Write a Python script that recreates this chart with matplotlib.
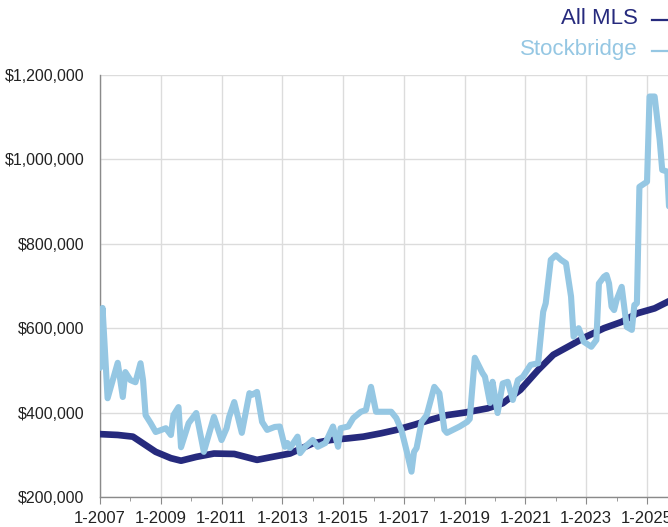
import matplotlib
matplotlib.use('Agg')
import matplotlib.pyplot as plt
from matplotlib.lines import Line2D
from matplotlib.ticker import FuncFormatter, MultipleLocator
import numpy as np

plt.rcParams['font.family'] = ['Liberation Sans', 'DejaVu Sans']

# months since January 2007
stock_months = [0, 1, 3, 7, 9, 10, 12, 14, 16, 17, 18, 20, 22, 26, 28, 29, 31, 32, 35, 38,
                41, 45, 48, 50, 51, 53, 56, 59, 60, 62, 64, 66, 69, 71, 73, 74, 75, 78, 79, 81,
                84, 86, 89, 92, 94, 95, 98, 100, 103, 105, 107, 109, 112, 115, 117, 119, 121, 123, 124, 125,
                127, 129, 132, 134, 136, 137, 142, 145, 146, 148, 151, 152, 154, 155, 157, 159, 161, 163, 165, 167,
                170, 173, 175, 176, 178, 180, 182, 184, 186, 187, 189, 191, 194, 196, 197, 199, 200, 201, 202, 203,
                204, 206, 208, 210, 211, 212, 213, 216, 217, 219, 221, 222, 224, 225]
stock_values = [506, 648, 434, 518, 437, 496, 477, 472, 517, 477, 394, 375, 354, 363, 347, 394, 413, 318, 375, 399,
                307, 390, 335, 363, 390, 425, 352, 446, 442, 449, 378, 359, 366, 367, 319, 328, 316, 343, 304, 319,
                335, 319, 328, 367, 319, 363, 367, 387, 402, 406, 461, 402, 402, 402, 387, 359, 311, 260, 307, 316,
                378, 394, 461, 446, 359, 352, 367, 378, 385, 530, 494, 485, 423, 473, 399, 469, 473, 430, 477, 485,
                513, 517, 639, 659, 762, 773, 762, 754, 675, 580, 600, 568, 556, 572, 706, 722, 726, 706, 651, 643,
                667, 698, 603, 596, 655, 659, 935, 947, 1149, 1149, 1046, 975, 971, 850]

mls_months = [0, 7, 13, 17, 22, 28, 32, 38, 45, 53, 62, 68, 75, 78, 84, 91, 98, 104, 111, 117,
              124, 130, 137, 144, 153, 159, 166, 173, 179, 186, 192, 199, 206, 212, 219, 225]
mls_values = [349, 347, 343, 327, 307, 292, 286, 295, 303, 302, 288, 295, 303, 311, 327, 335, 339, 343, 351, 359,
              371, 382, 394, 400, 410, 422, 454, 501, 537, 560, 580, 600, 615, 635, 647, 665]

series_names = ['All MLS', 'Stockbridge']
tick_years = list(range(2007, 2026, 2))
tick_labels = [f'1-{y}' for y in tick_years]
y_ticks = [200000, 400000, 600000, 800000, 1000000, 1200000]

navy = '#262a7d'
light = '#95c7e3'

fig = plt.figure(figsize=(6.68, 5.27), dpi=100)
ax = fig.add_axes([100/668, 30/527, 568/668, 422/527])

mx = 2007 + np.array(mls_months) / 12.0
sx = 2007 + np.array(stock_months) / 12.0
ax.plot(mx, np.array(mls_values) * 1000, color=navy, lw=4.8, solid_joinstyle='round', solid_capstyle='round', zorder=3)
ax.plot(sx, np.array(stock_values) * 1000, color=light, lw=4.4, solid_joinstyle='round', solid_capstyle='round', zorder=4)

ax.set_xlim(2007, 2007 + 568/30.39)
ax.set_ylim(200000, 1200000)
ax.set_xticks(tick_years)
ax.set_xticklabels(tick_labels)
ax.xaxis.set_minor_locator(MultipleLocator(1))
ax.set_yticks(y_ticks)
ax.yaxis.set_major_formatter(FuncFormatter(lambda v, p: f'${int(v):,}'))

ax.grid(True, which='major', color='#dcdcdc', lw=1.0)
ax.set_axisbelow(True)
for s in ['top', 'right']:
    ax.spines[s].set_visible(False)
for s in ['left', 'bottom']:
    ax.spines[s].set_color('#8a8a8a')
    ax.spines[s].set_linewidth(1.0)

ax.tick_params(axis='x', which='major', length=5, color='#8a8a8a', pad=5, labelsize=12, labelcolor='#222222')
ax.tick_params(axis='x', which='minor', length=3, color='#8a8a8a')
ax.tick_params(axis='y', which='major', length=0, pad=11, labelsize=11.5, labelcolor='#222222')

# legend (top right)
fig.text(638/668, 1 - 19/527, series_names[0], ha='right', va='center', fontsize=16, color=navy)
fig.text(638/668, 1 - 50/527, series_names[1], ha='right', va='center', fontsize=16, color=light)
fig.add_artist(Line2D([652/668, 1.02], [1 - 20/527, 1 - 20/527], color=navy, lw=1.6, transform=fig.transFigure))
fig.add_artist(Line2D([652/668, 1.02], [1 - 51/527, 1 - 51/527], color=light, lw=1.6, transform=fig.transFigure))

fig.savefig('out.png', dpi=100)
